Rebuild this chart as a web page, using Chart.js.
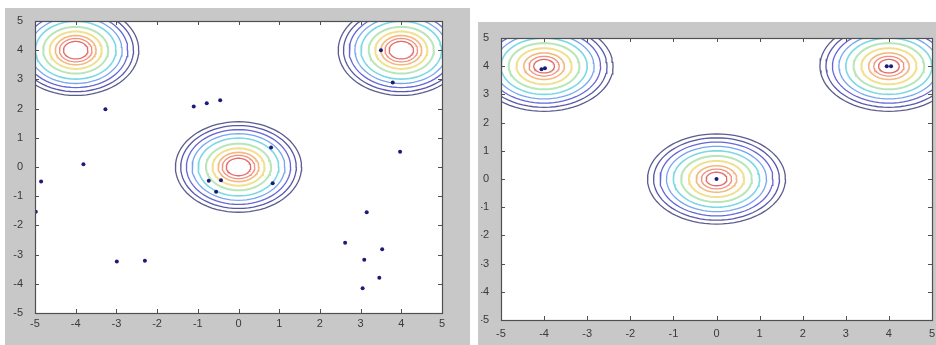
<!DOCTYPE html>
<html>
<head>
<meta charset="utf-8">
<script src="https://cdn.jsdelivr.net/npm/chart.js@4"></script>
<style>
  body { margin: 0; background: #fff; width: 936px; height: 345px; overflow: hidden; position: relative; }
  canvas { position: absolute; background: #c8c8c8; }
  #leftChart { left: 5px; top: 8px; }
  #rightChart { left: 478px; top: 22px; }
</style>
</head>
<body>
<canvas id="leftChart" width="465" height="337"></canvas>
<canvas id="rightChart" width="458" height="323"></canvas>
<script>
// tick labels, same on both axes of both plots
var tickValues = [-5, -4, -3, -2, -1, 0, 1, 2, 3, 4, 5];

// centres of the three gaussian bumps
var bumpCenters = [[-4, 4], [0, 0], [4, 4]];

// contour radii (outer -> inner)
var leftRadii = [1.55, 1.42, 1.28, 1.14, 0.99, 0.8, 0.64, 0.5, 0.4, 0.3];
var rightRadii = [1.6, 1.46, 1.31, 1.16, 1.0, 0.82, 0.64, 0.47, 0.35, 0.24];

// scattered samples, left plot
var leftX = [-3.27, -3.81, -4.85, -4.98, -2.99, -2.30, -1.10, -0.78, -0.45, 0.80, -0.73, -0.43, -0.55, 0.84,
             3.50, 3.79, 3.97, 3.15, 2.62, 3.09, 3.53, 3.46, 3.05];
var leftY = [1.98, 0.09, -0.50, -1.53, -3.24, -3.21, 2.07, 2.18, 2.29, 0.67, -0.47, -0.45, -0.85, -0.56,
             4.00, 2.89, 0.52, -1.55, -2.59, -3.18, -2.82, -3.79, -4.15];

// converged samples, right plot
var rightX = [-4.06, -3.98, 0.0, 3.95, 4.05];
var rightY = [3.89, 3.93, 0.0, 4.0, 4.0];

// jet-like colours, outer ring first
var ringColors = ['#5c5c8e', '#5858a8', '#6666d8', '#76a6f0', '#7cd8e4', '#b8e6b8', '#f0e090', '#f4b880', '#f0927e', '#e26c6c'];
var ringWidths = [1.3, 1.3, 1.3, 1.3, 1.6, 2, 2, 1.6, 1.3, 1.3];

function ringPoints(cx, cy, r) {
  var pts = [];
  for (var i = 0; i <= 72; i++) {
    var t = i / 72 * 2 * Math.PI;
    pts.push({ x: cx + r * Math.cos(t), y: cy + r * Math.sin(t) });
  }
  return pts;
}

function buildDatasets(radii, xs, ys) {
  var sets = [];
  bumpCenters.forEach(function (c) {
    radii.forEach(function (r, i) {
      sets.push({
        type: 'line',
        data: ringPoints(c[0], c[1], r),
        borderColor: ringColors[i],
        borderWidth: ringWidths[i],
        pointRadius: 0,
        fill: false,
        clip: 0,
        order: 2
      });
    });
  });
  sets.push({
    type: 'scatter',
    data: xs.map(function (x, i) { return { x: x, y: ys[i] }; }),
    backgroundColor: '#1c1c78',
    borderColor: '#1c1c78',
    pointRadius: 2,
    borderWidth: 0,
    order: 0
  });
  return sets;
}

// white plot area + matlab style box with inward ticks
var matlabBox = {
  id: 'matlabBox',
  beforeDatasetsDraw: function (chart) {
    var a = chart.chartArea, ctx = chart.ctx;
    ctx.save();
    ctx.fillStyle = '#ffffff';
    ctx.fillRect(a.left, a.top, a.right - a.left, a.bottom - a.top);
    ctx.restore();
  },
  afterDatasetsDraw: function (chart) {
    var a = chart.chartArea, ctx = chart.ctx;
    var xs = chart.scales.x, ys = chart.scales.y;
    var len = 4;
    ctx.save();
    ctx.strokeStyle = '#505050';
    ctx.lineWidth = 1;
    ctx.beginPath();
    tickValues.forEach(function (v) {
      var px = Math.round(xs.getPixelForValue(v)) + 0.5;
      ctx.moveTo(px, a.bottom); ctx.lineTo(px, a.bottom - len);
      ctx.moveTo(px, a.top); ctx.lineTo(px, a.top + len);
      var py = Math.round(ys.getPixelForValue(v)) + 0.5;
      ctx.moveTo(a.left, py); ctx.lineTo(a.left + len, py);
      ctx.moveTo(a.right, py); ctx.lineTo(a.right - len, py);
    });
    ctx.stroke();
    ctx.lineWidth = 1.2;
    ctx.strokeRect(Math.round(a.left) + 0.5, Math.round(a.top) + 0.5,
      Math.round(a.right - a.left), Math.round(a.bottom - a.top));
    ctx.restore();
  }
};

function makeChart(id, radii, xs, ys, pad, yW, xH, xPad) {
  var tickFont = { family: '"Liberation Sans", Arial, sans-serif', size: 11 };
  return new Chart(document.getElementById(id).getContext('2d'), {
    type: 'scatter',
    data: { datasets: buildDatasets(radii, xs, ys) },
    options: {
      responsive: false,
      animation: false,
      devicePixelRatio: 1,
      layout: { padding: pad },
      plugins: { legend: { display: false }, tooltip: { enabled: false } },
      scales: {
        x: {
          type: 'linear', min: -5, max: 5,
          grid: { display: false }, border: { display: false },
          afterBuildTicks: function (s) { s.ticks = tickValues.map(function (v) { return { value: v }; }); },
          afterFit: function (s) { s.height = xH; },
          ticks: { color: '#3a3a3a', font: tickFont, padding: xPad, maxRotation: 0, autoSkip: false }
        },
        y: {
          type: 'linear', min: -5, max: 5,
          grid: { display: false }, border: { display: false },
          afterBuildTicks: function (s) { s.ticks = tickValues.map(function (v) { return { value: v }; }); },
          afterFit: function (s) { s.width = yW; },
          ticks: { color: '#3a3a3a', font: tickFont, padding: 4, autoSkip: false }
        }
      }
    },
    plugins: [matlabBox]
  });
}

makeChart('leftChart', leftRadii, leftX, leftY, { left: 5, top: 13, right: 28, bottom: 12 }, 25, 20, -4);
makeChart('rightChart', rightRadii, rightX, rightY, { left: 3, top: 16, right: 4, bottom: 5 }, 20, 20, -1);
</script>
</body>
</html>
